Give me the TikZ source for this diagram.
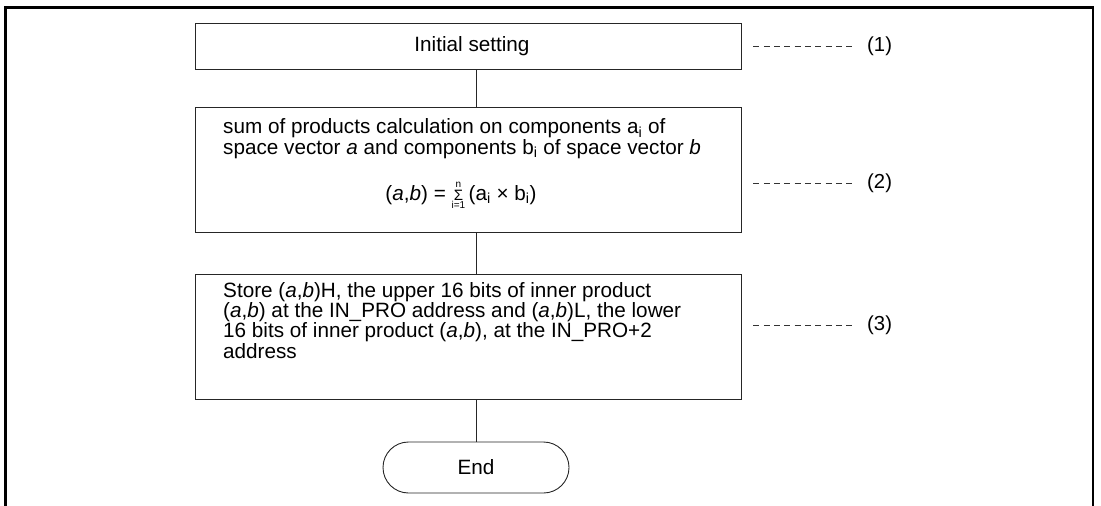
\documentclass[tikz,border=0pt]{standalone}
\usepackage{fontspec}
\setmainfont{Liberation Sans}
\begin{document}
\begin{tikzpicture}[x=1pt,y=-1pt,
  stepbox/.style={draw=black!85,line width=0.9pt,rectangle,minimum width=546pt,inner sep=0pt},
  termbox/.style={draw=black!85,line width=0.9pt,rectangle,rounded corners=25.5pt,minimum width=186pt,minimum height=51pt,inner sep=0pt},
  txt/.style={inner sep=0pt,font=\fontsize{20.7}{17.9}\selectfont,align=left},
  conn/.style={draw=black!85,line width=0.9pt},
  dashline/.style={draw=black!80,line width=0.9pt,dash pattern=on 6pt off 4.3pt},
  lbl/.style={inner sep=0pt,font=\fontsize{20.3}{17.9}\selectfont,anchor=west}]
\useasboundingbox (0,0) rectangle (1101,506);
% outer frame
\draw[line width=2.4pt] (5.3,520) -- (5.3,7.3) -- (1093,7.3) -- (1093,520);
% boxes
\node[stepbox,minimum height=46pt] (b1) at (468,46) {};
\node[stepbox,minimum height=125pt] (b2) at (468,169.5) {};
\node[stepbox,minimum height=125pt] (b3) at (468,336.5) {};
\node[termbox] (e) at (476,467.5) {};
% texts
\node[txt] (t1) at (472,46) {Initial setting};
\node[txt,anchor=base west] (t2) at (223,154) {sum of products calculation on components a\textsubscript{i} of\\space vector \textit{a} and components b\textsubscript{i} of space vector \textit{b}};
\node[txt,anchor=base] (t2f) at (461,200) {(\textit{a},\textit{b}) = $\mathop{\mbox{\fontsize{15}{15}\selectfont Σ}}\limits^{\mbox{\fontsize{10}{10}\selectfont n}}_{\mbox{\fontsize{10}{10}\selectfont i=1}}$\,(a\textsubscript{i} × b\textsubscript{i})};
\node[txt,anchor=base west] (t3) at (223,358) {Store (\textit{a},\textit{b})H, the upper 16 bits of inner product\\(\textit{a},\textit{b}) at the IN\_PRO address and (\textit{a},\textit{b})L, the lower\\16 bits of inner product (\textit{a},\textit{b}), at the IN\_PRO+2\\address};
\node[txt] (te) at (476,467.5) {End};
% connectors
\draw[conn] (b1.south -| e.center) -- (b2.north -| e.center);
\draw[conn] (b2.south -| e.center) -- (b3.north -| e.center);
\draw[conn] (b3.south -| e.center) -- (e.north);
% labels
\node[lbl] (l1) at (867,46) {(1)};
\node[lbl] (l2) at (867,183) {(2)};
\node[lbl] (l3) at (867,325) {(3)};
\draw[dashline] ([xshift=12pt]b1.east) -- ([xshift=-12pt]l1.west);
\draw[dashline] ([xshift=12pt]b2.east |- l2.west) -- ([xshift=-12pt]l2.west);
\draw[dashline] ([xshift=12pt]b3.east |- l3.west) -- ([xshift=-12pt]l3.west);
\end{tikzpicture}
\end{document}
